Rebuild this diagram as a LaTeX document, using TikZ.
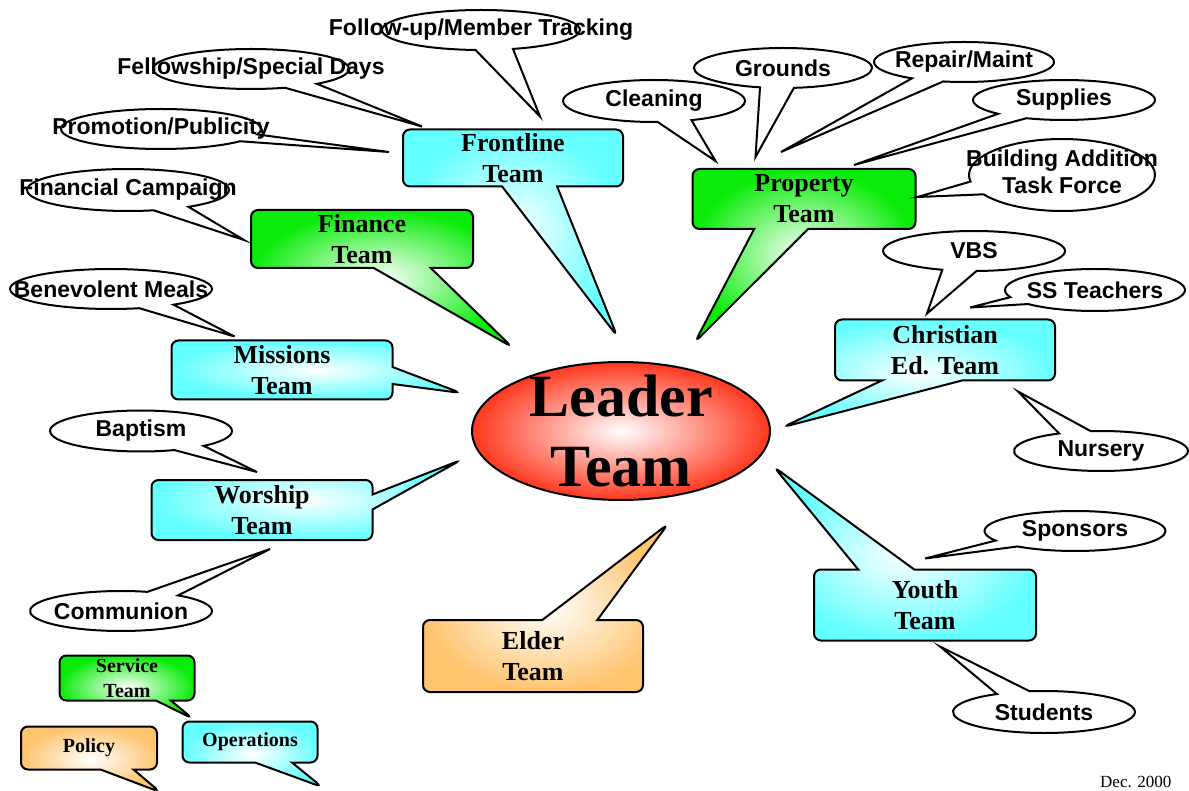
\documentclass[tikz,border=0pt]{standalone}
\usepackage{fontspec}
\setmainfont{Liberation Serif}
\newfontfamily\bubblefont{Liberation Sans}
\usetikzlibrary{shapes.callouts,shapes.geometric,calc}
\definecolor{teamcyan}{RGB}{100,255,255}
\definecolor{teamgreen}{RGB}{10,235,10}
\definecolor{teamorange}{RGB}{255,196,110}
\definecolor{leadred}{RGB}{255,55,30}

\begin{document}
\begin{tikzpicture}[x=1pt,y=-1pt,
    team/.style={rectangle callout,draw,line width=2pt,rounded corners=7pt,inner sep=0pt,
      minimum width=220pt,minimum height=58pt,align=center,
      font=\fontsize{26}{31}\selectfont\bfseries,shade,inner color=white},
    smallteam/.style={team,minimum width=135pt,minimum height=44pt,
      font=\fontsize{20}{25}\selectfont\bfseries},
    bubble/.style={ellipse callout,draw,line width=2pt,fill=white,inner sep=0pt,
      minimum width=182pt,minimum height=40pt,callout pointer arc=22,
      font=\bubblefont\fontsize{23}{27}\selectfont\bfseries}]
\useasboundingbox (0,0) rectangle (1189,791);

\node[ellipse,draw,line width=2pt,shade,inner color=white,outer color=leadred,
  minimum width=298pt,minimum height=138pt,inner xsep=0pt,inner ysep=-8pt,align=center,
  font=\fontsize{60}{70}\selectfont\bfseries] (leader) at (621,431) {Leader\\Team};

\node[team,outer color=teamcyan,minimum height=57pt,callout pointer width=55pt,
  callout absolute pointer={($(leader.north)+(-4,-25)$)}] (frontline) at (513,158) {Frontline\\Team};
\node[team,outer color=teamgreen,minimum width=222pt,callout pointer width=57pt,
  callout absolute pointer={($(leader.north)+(-109,-14)$)}] (finance) at (362,239) {Finance\\Team};
\node[team,outer color=teamgreen,minimum width=223pt,minimum height=60pt,callout pointer width=54pt,
  callout absolute pointer={($(leader.north)+(74,-19)$)}] (property) at (804,199) {Property\\Team};
\node[team,outer color=teamcyan,minimum width=221pt,minimum height=59pt,callout pointer width=17pt,
  callout absolute pointer={($(leader.west)+(-10,-38)$)}] (missions) at (282,370) {Missions\\Team};
\node[team,outer color=teamcyan,minimum width=221pt,minimum height=60pt,callout pointer width=15pt,
  callout absolute pointer={($(leader.west)+(-10,29)$)}] (worship) at (262,510) {Worship\\Team};
\node[team,outer color=teamcyan,minimum height=61pt,callout pointer width=80pt,
  callout absolute pointer={($(leader.east)+(12,-4)$)}] (christian) at (945,350) {Christian\\Ed. Team};
\node[team,outer color=teamcyan,minimum width=222pt,minimum height=71pt,callout pointer width=56pt,
  callout absolute pointer={($(leader.east)+(3,36)$)}] (youth) at (925,605) {Youth\\Team};
\node[team,outer color=teamorange,minimum height=72pt,callout pointer width=55pt,
  callout absolute pointer={($(leader.south)+(47,23)$)}] (elder) at (533,656) {Elder\\Team};

\coordinate (opstip) at (322,787);
\coordinate (policytip) at (160,792);
\node[smallteam,outer color=teamcyan,minimum height=41pt,callout pointer width=37pt,
  callout absolute pointer=(opstip)] (operations) at (250,742) {Operations};
\node[smallteam,outer color=teamgreen,minimum height=45pt,callout pointer width=15pt,
  callout absolute pointer={($(operations.north west)+(11,-2)$)}] (service) at (127,678) {Service\\Team};
\node[smallteam,outer color=teamorange,minimum width=136pt,minimum height=43pt,callout pointer width=33pt,
  callout absolute pointer=(policytip)] (policy) at (89,748) {Policy};

\node[bubble,minimum width=198pt,callout absolute pointer={($(frontline.north)+(27,-12)$)}]
  (followup) at (481,30) {\makebox[0pt]{Follow-up/Member Tracking}};
\node[bubble,minimum width=196pt,callout absolute pointer={($(frontline.north west)+(20,-2)$)}]
  (fellowship) at (251,69) {\makebox[0pt]{Fellowship/Special Days}};
\node[bubble,minimum width=200pt,callout absolute pointer={($(frontline.west)+(-13,-6)$)}]
  (promotion) at (161,129) {\makebox[0pt]{Promotion/Publicity}};
\node[bubble,minimum width=202pt,minimum height=42pt,callout absolute pointer={($(finance.west)+(-6,1)$)}]
  (campaign) at (128,190) {\makebox[0pt]{Financial Campaign}};
\node[bubble,minimum width=202pt,callout absolute pointer={($(missions.north west)+(64,-3)$)}]
  (benevolent) at (111,289) {\makebox[0pt]{Benevolent Meals}};
\node[bubble,minimum height=41pt,callout absolute pointer={($(worship.north)+(-5,-7)$)}]
  (baptism) at (141,431) {\makebox[0pt]{Baptism}};
\node[bubble,callout absolute pointer={($(worship.south)+(8,8)$)}]
  (communion) at (121,611) {\makebox[0pt]{Communion}};
\node[bubble,minimum height=42pt,callout absolute pointer={($(property.north west)+(24,-7)$)}]
  (cleaning) at (654,101) {\makebox[0pt]{Cleaning}};
\node[bubble,minimum width=178pt,callout absolute pointer={($(property.north west)+(64,-11)$)}]
  (grounds) at (783,68) {\makebox[0pt]{Grounds}};
\node[bubble,minimum width=180pt,callout absolute pointer={($(property.north)+(-23,-16)$)}]
  (repair) at (964,62) {\makebox[0pt]{Repair/Maint}};
\node[bubble,callout absolute pointer={($(property.north)+(50,-3)$)}]
  (supplies) at (1064,100) {\makebox[0pt]{Supplies}};
\node[bubble,minimum width=186pt,minimum height=72pt,inner ysep=-4pt,
  callout absolute pointer={($(property.east)+(1,-2)$)}]
  (building) at (1062,175) {\makebox[0pt]{\begin{tabular}{@{}c@{}}Building Addition\\Task Force\end{tabular}}};
\node[bubble,callout absolute pointer={($(christian.north)+(-18,-5)$)}]
  (vbs) at (974,251) {\makebox[0pt]{VBS}};
\node[bubble,minimum width=180pt,minimum height=42pt,callout absolute pointer={($(christian.north)+(25,-11)$)}]
  (ssteachers) at (1095,290) {\makebox[0pt]{SS Teachers}};
\node[bubble,minimum width=174pt,callout absolute pointer={($(christian.south east)+(-38,10)$)}]
  (nursery) at (1101,451) {\makebox[0pt]{Nursery}};
\node[bubble,minimum width=181pt,callout absolute pointer={($(youth.north)+(0,-10)$)}]
  (sponsors) at (1075,531) {\makebox[0pt]{Sponsors}};
\node[bubble,minimum height=42pt,callout absolute pointer={($(youth.south)+(15,5)$)}]
  (students) at (1044,712) {\makebox[0pt]{Students}};

\node[anchor=base west,inner sep=0pt,font=\fontsize{17}{20}\selectfont] (date) at (1100,787) {Dec. 2000};
\end{tikzpicture}
\end{document}
